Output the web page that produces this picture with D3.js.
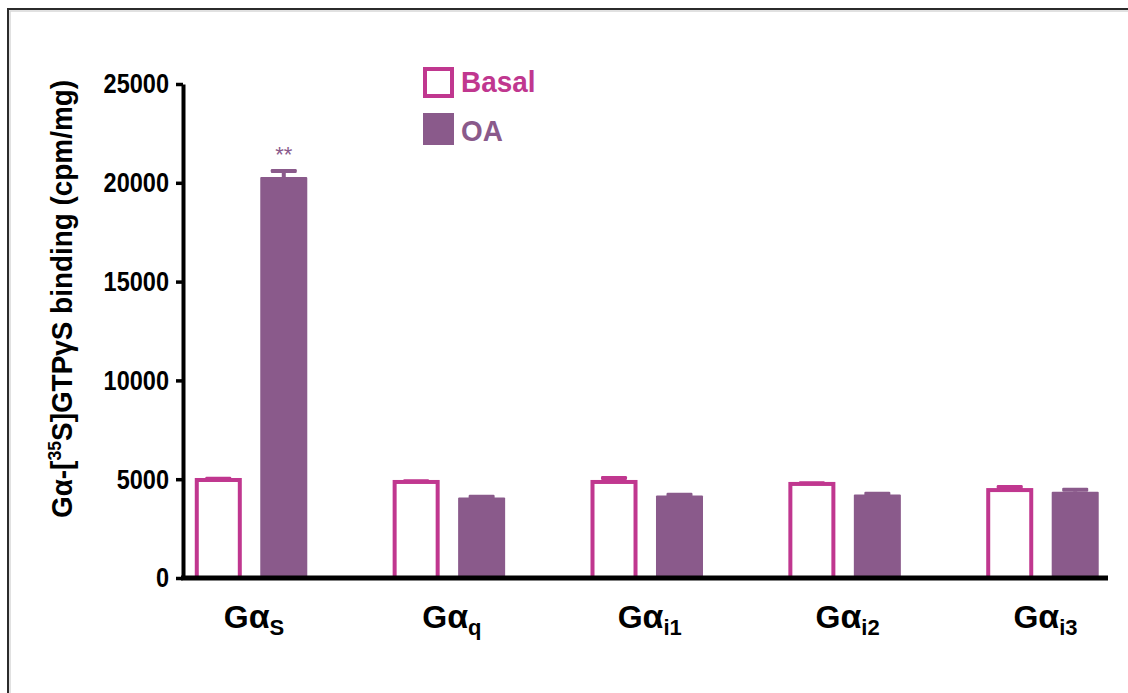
<!DOCTYPE html>
<html>
<head>
<meta charset="utf-8">
<script src="https://cdn.jsdelivr.net/npm/d3@7/dist/d3.min.js"></script>
<style>
  html, body { margin: 0; padding: 0; background: #ffffff; }
  svg { display: block; }
</style>
</head>
<body>
<svg id="chart" width="1128" height="693"></svg>
<script>
// ---- data ----
const categories = ["s", "q", "i1", "i2", "i3"];        // subscripts of Gα
const categoryLabelSubscripts = ["S", "q", "i1", "i2", "i3"];
const seriesNames = ["Basal", "OA"];
const basalValues = [4960, 4860, 4860, 4760, 4450];
const basalErrors = [60, 40, 200, 40, 150];
const oaValues = [20290, 4080, 4180, 4230, 4370];
const oaErrors = [310, 30, 30, 30, 100];
const yTickValues = [0, 5000, 10000, 15000, 20000, 25000];
const significance = ["**", "", "", "", ""];

// ---- styles ----
const basalColor = "#C0378F";
const oaColor = "#8A5A8B";
const font = "'Liberation Sans', Arial, Helvetica, sans-serif";

const svg = d3.select("#chart");

// frame
svg.append("path")
  .attr("d", "M8,700 V9 H1135")
  .attr("fill", "none").attr("stroke", "#2b2b2b").attr("stroke-width", 2);
svg.append("path")
  .attr("d", "M10,700 V11 H1135")
  .attr("fill", "none").attr("stroke", "#d8d8d8").attr("stroke-width", 1.5);

const axisX = 183;
const baseY = 578;
const topY = 84;
const axisRight = 1108;

const y = d3.scaleLinear().domain([0, 25000]).range([baseY, topY]);
const x0 = d3.scaleBand().domain(categories).range([152.1, 1141.4]).padding(0);
const x1 = d3.scaleBand().domain(seriesNames).range([-56.25, 56.25]).paddingInner(0.282).paddingOuter(0);

const data = categories.map((c, i) => ({
  cat: c,
  sub: categoryLabelSubscripts[i],
  sig: significance[i],
  bars: [
    { s: "Basal", v: basalValues[i], e: basalErrors[i] },
    { s: "OA", v: oaValues[i], e: oaErrors[i] }
  ]
}));

const cx = c => x0(c) + x0.bandwidth() / 2;
const bw = x1.bandwidth();

const groups = svg.append("g").selectAll("g").data(data).join("g")
  .attr("transform", d => `translate(${cx(d.cat)},0)`);

// error bars (behind bars)
groups.each(function (d) {
  const g = d3.select(this);
  d.bars.forEach(b => {
    const col = b.s === "Basal" ? basalColor : oaColor;
    const bc = x1(b.s) + bw / 2;
    g.append("rect")
      .attr("x", bc - 2).attr("width", 4)
      .attr("y", y(b.v + b.e)).attr("height", y(b.v) - y(b.v + b.e))
      .attr("fill", col);
    g.append("rect")
      .attr("x", bc - 13).attr("width", 26)
      .attr("y", y(b.v + b.e) - 2).attr("height", 4)
      .attr("rx", 1.2)
      .attr("fill", col);
  });
});

// bars
groups.each(function (d) {
  const g = d3.select(this);
  const basal = d.bars[0];
  g.append("rect")
    .attr("x", x1("Basal") + 2).attr("width", bw - 4)
    .attr("y", y(basal.v)).attr("height", y(0) - y(basal.v))
    .attr("fill", "#ffffff").attr("stroke", basalColor).attr("stroke-width", 4);
  const oa = d.bars[1];
  g.append("rect")
    .attr("x", x1("OA")).attr("width", bw)
    .attr("y", y(oa.v)).attr("height", y(0) - y(oa.v))
    .attr("rx", 1)
    .attr("fill", oaColor);
  if (d.sig) {
    g.append("text")
      .attr("x", x1("OA") + bw / 2)
      .attr("y", y(oa.v + oa.e) - 9)
      .attr("text-anchor", "middle")
      .attr("font-family", font).attr("font-size", 22)
      .attr("fill", oaColor)
      .text(d.sig);
  }
});

// y axis
const sx = 0.84;
const yAxis = d3.axisLeft(y).tickValues(yTickValues).tickSize(7).tickSizeOuter(0).tickPadding(6)
  .tickFormat(d3.format("d"));
const ya = svg.append("g").attr("transform", `translate(${axisX},0)`).call(yAxis);
ya.select(".domain").attr("stroke", "#000").attr("stroke-width", 4);
ya.selectAll(".tick line").attr("stroke", "#000").attr("stroke-width", 3.5);
ya.selectAll(".tick text")
  .attr("x", -14 / sx)
  .attr("transform", `scale(${sx},1)`)
  .attr("font-family", font).attr("font-weight", "bold").attr("font-size", 28)
  .attr("fill", "#000");

// x axis baseline
svg.append("line")
  .attr("x1", axisX - 2).attr("x2", axisRight)
  .attr("y1", baseY).attr("y2", baseY)
  .attr("stroke", "#000").attr("stroke-width", 5);

// x category labels
const xl = svg.append("g").selectAll("text").data(data).join("text")
  .attr("x", d => cx(d.cat) + 3)
  .attr("y", 628)
  .attr("text-anchor", "middle")
  .attr("font-family", font).attr("font-weight", "bold").attr("font-size", 32)
  .attr("fill", "#000");
xl.append("tspan").text("G");
xl.append("tspan").attr("font-size", 34).text("α");
xl.append("tspan").attr("font-size", 22).attr("dy", 7).text(d => d.sub);

// y axis title
const yt = svg.append("text")
  .attr("transform", "translate(72,299) rotate(-90) scale(0.93,1)")
  .attr("text-anchor", "middle")
  .attr("font-family", font).attr("font-weight", "bold").attr("font-size", 30)
  .attr("fill", "#000");
yt.append("tspan").text("Gα-[");
yt.append("tspan").attr("font-size", 19).attr("dy", -11).text("35");
yt.append("tspan").attr("dy", 11).text("S]GTPγS binding (cpm/mg)");

// legend
const legend = svg.append("g");
legend.append("rect")
  .attr("x", 425).attr("y", 69).attr("width", 27).attr("height", 27)
  .attr("fill", "#fff").attr("stroke", basalColor).attr("stroke-width", 4);
legend.append("rect")
  .attr("x", 423).attr("y", 113).attr("width", 31).attr("height", 32)
  .attr("fill", oaColor);
legend.append("text")
  .attr("transform", "translate(461,92) scale(0.93,1)")
  .attr("font-family", font).attr("font-weight", "bold").attr("font-size", 30)
  .attr("fill", basalColor).text(seriesNames[0]);
legend.append("text")
  .attr("transform", "translate(461,141) scale(0.93,1)")
  .attr("font-family", font).attr("font-weight", "bold").attr("font-size", 30)
  .attr("fill", oaColor).text(seriesNames[1]);
</script>
</body>
</html>
